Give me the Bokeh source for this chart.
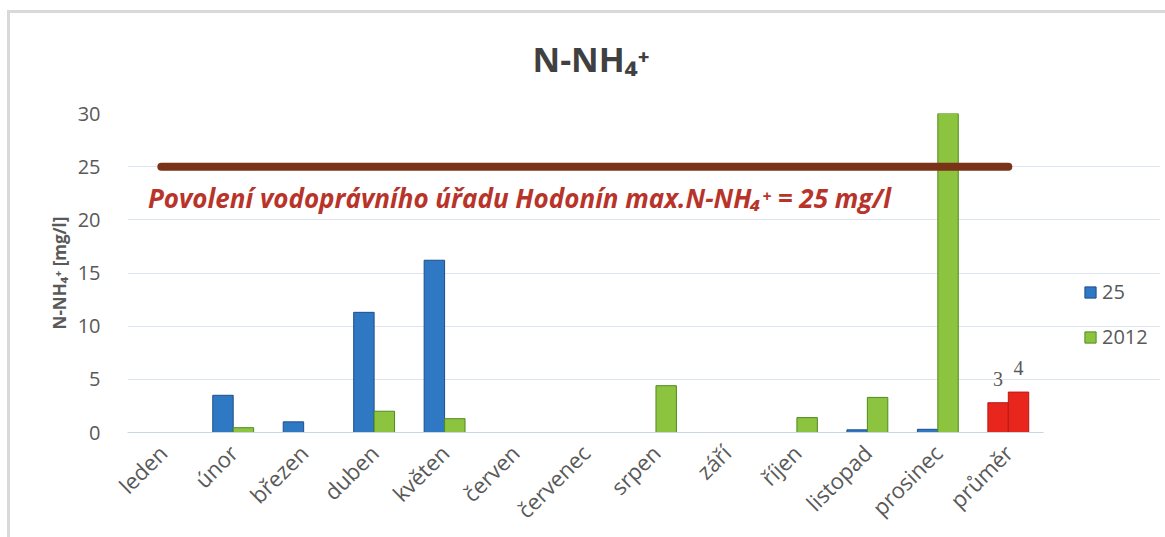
import math
from bokeh.plotting import figure
from bokeh.models import Range1d, Legend, LegendItem, Label, ColumnDataSource, LabelSet, Title, FixedTicker
from bokeh.embed import file_html
from bokeh.resources import INLINE

# ---- data ----
months = ["leden", "únor", "březen", "duben", "květen", "červen", "červenec",
          "srpen", "září", "říjen", "listopad", "prosinec"]
avg_category = "průměr"
series_25 = [0, 3.5, 1.0, 11.3, 16.2, 0, 0, 0, 0, 0, 0.25, 0.3]
series_2012 = [0, 0.45, 0, 2.0, 1.3, 0, 0, 4.4, 0, 1.4, 3.3, 30]
avg_values = [2.8, 3.8]
avg_labels = ["3", "4"]
limit_value = 25
limit_text = "Povolení vodoprávního úřadu Hodonín max.N-NH₄⁺ = 25 mg/l"
title_text = "N-NH₄⁺"
y_label = "N-NH₄⁺ [mg/l]"
y_ticks = [0, 5, 10, 15, 20, 25, 30]
legend_names = ["25", "2012"]

categories = months + [avg_category]
n = len(categories)
centers = [i + 0.5 for i in range(n)]
OFF = 0.145
BW = 0.29

FONT = "Open Sans"
GREY = "#595959"

# numeric x range: categories occupy [0, n]; extra room on the right holds the legend
p = figure(x_range=Range1d(0, n + 1.66), y_range=Range1d(0, 30),
           width=1165, height=537, output_backend="svg", toolbar_location=None,
           min_border_left=127, min_border_right=5, min_border_top=113, min_border_bottom=104)
p.outline_line_color = None
p.background_fill_color = "white"
p.border_fill_color = None
# light grey chart-area border on the top and left, as in the reference
p.styles = {"background":
            "linear-gradient(#D9D9D9, #D9D9D9) 7px 10px / 100% 3px no-repeat, "
            "linear-gradient(#D9D9D9, #D9D9D9) 7px 10px / 3px 100% no-repeat, white",
            "border": "none", "outline": "none", "overflow": "hidden",
            "box-sizing": "border-box"}

# title
t = Title(text=title_text, align="left", text_font=FONT, text_font_style="bold",
          text_font_size="34px", text_color="#404040", standoff=64, offset=405)
p.add_layout(t, "above")

src = ColumnDataSource(dict(xa=[c - OFF for c in centers[:12]], xb=[c + OFF for c in centers[:12]],
                            a=series_25, b=series_2012))
r_blue = p.vbar(x="xa", top="a", width=BW, source=src,
                fill_color="#2F78C4", line_color="#1F4E89", line_width=1)
r_green = p.vbar(x="xb", top="b", width=BW, source=src,
                 fill_color="#8CC43F", line_color="#4F8A1E", line_width=1)

avg_src = ColumnDataSource(dict(x=[centers[12] - OFF, centers[12] + OFF], v=avg_values, lab=avg_labels))
p.vbar(x="x", top="v", width=BW, source=avg_src,
       fill_color="#E8261E", line_color="#B81A14", line_width=1)
p.add_layout(LabelSet(x="x", y="v", text="lab", source=avg_src,
                      y_offset=17, text_align="center", text_baseline="bottom",
                      text_font=FONT, text_font_size="20px", text_color=GREY))

# limit line
p.segment(x0=0.48, y0=limit_value, x1=12.5, y1=limit_value, line_color="#7A3318",
          line_width=8, line_cap="round")
p.add_layout(Label(x=0.29, y=limit_value - 2.95, text=limit_text, text_font=FONT,
                   text_font_style="bold italic", text_font_size="26px", text_color="#B8342A",
                   text_baseline="middle"))

# axes
p.yaxis.ticker = y_ticks
p.yaxis.axis_line_color = None
p.yaxis.major_tick_line_color = None
p.yaxis.minor_tick_line_color = None
p.yaxis.major_label_text_font = FONT
p.yaxis.major_label_text_font_size = "20px"
p.yaxis.major_label_text_color = GREY
p.yaxis.major_label_standoff = 21
p.yaxis.axis_label = y_label
p.yaxis.axis_label_text_font = FONT
p.yaxis.axis_label_text_font_style = "bold"
p.yaxis.axis_label_text_font_size = "17px"
p.yaxis.axis_label_text_color = GREY
p.yaxis.axis_label_standoff = 4

p.xaxis.ticker = FixedTicker(ticks=centers)
p.xaxis.major_label_overrides = {c: name for c, name in zip(centers, categories)}
p.xaxis.bounds = (0, n)
p.xaxis.axis_line_color = "#C9D5E2"
p.xaxis.major_tick_line_color = None
p.xaxis.minor_tick_line_color = None
p.xaxis.major_label_orientation = math.radians(45)
p.xaxis.major_label_text_font = FONT
p.xaxis.major_label_text_font_size = "22px"
p.xaxis.major_label_text_color = GREY
p.xaxis.major_label_standoff = 10

p.xgrid.grid_line_color = None
p.ygrid.grid_line_color = "#DCE5EF"
p.ygrid.bounds = (0, n)

legend = Legend(items=[LegendItem(label=legend_names[0], renderers=[r_blue]),
                       LegendItem(label=legend_names[1], renderers=[r_green])],
                location=(956, 82), orientation="vertical",
                glyph_width=14, glyph_height=14, spacing=18,
                label_text_font=FONT, label_text_font_size="20px", label_text_color=GREY,
                background_fill_alpha=0, border_line_color=None, padding=0, margin=0,
                label_standoff=5)
p.add_layout(legend, "center")

open("out.html", "w").write(file_html(p, INLINE))
